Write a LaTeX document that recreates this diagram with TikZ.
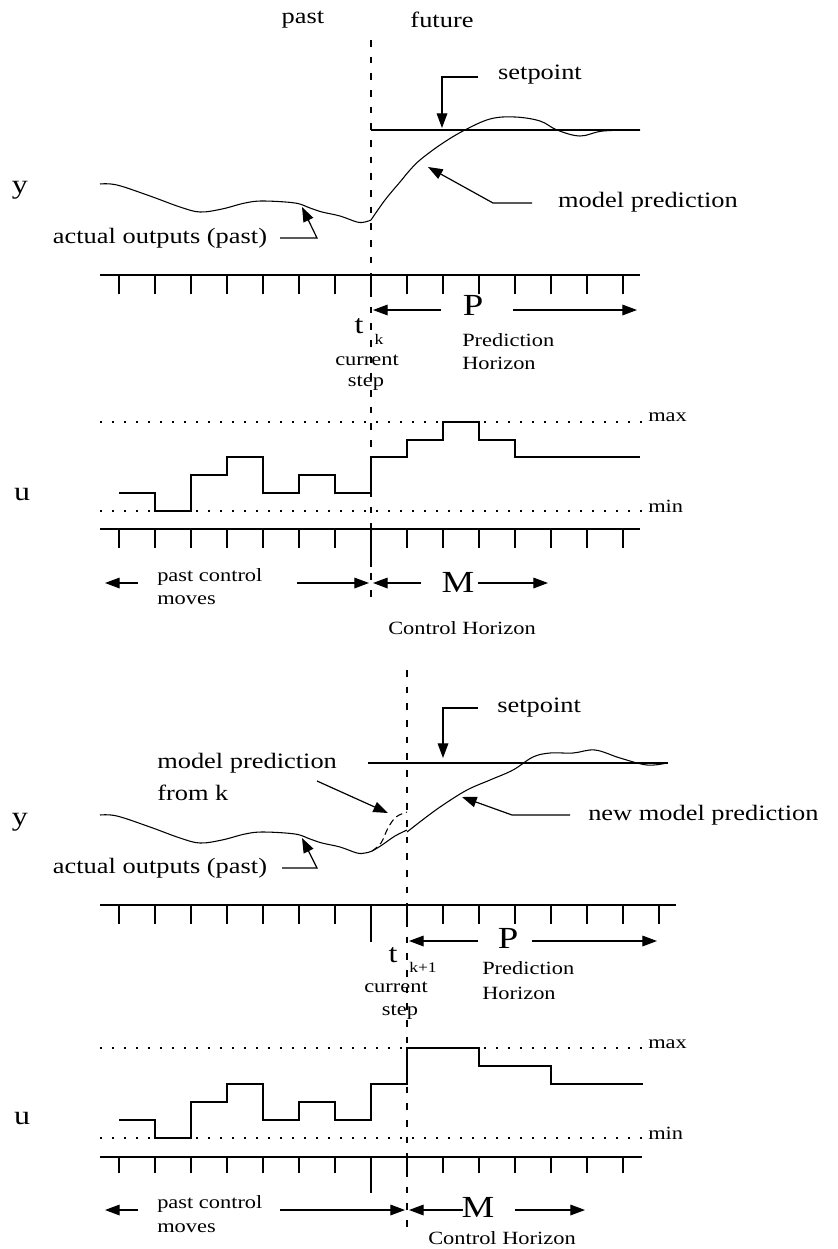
\documentclass[tikz,border=0pt]{standalone}
\usepackage{fontspec}
\setmainfont[FakeStretch=1.2]{Liberation Serif}
\usetikzlibrary{arrows.meta}
\begin{document}
\begin{tikzpicture}[x=0.75pt,y=-0.75pt,
  txt/.style={font=\fontsize{16.5}{18}\selectfont, inner sep=0pt},
  sml/.style={font=\fontsize{14}{16}\selectfont, inner sep=0pt},
  tiny/.style={font=\fontsize{11}{12}\selectfont, inner sep=0pt},
  big/.style={font=\fontsize{23}{26}\selectfont, inner sep=0pt},
  var/.style={font=\fontsize{20}{23}\selectfont, inner sep=0pt},
  axisline/.style={line width=1.1pt},
  tickmark/.style={line width=1.2pt},
  curve/.style={line width=0.8pt},
  nowline/.style={line width=1.2pt, dash pattern=on 5pt off 7.5pt},
  bound/.style={line width=1.1pt, dash pattern=on 1.5pt off 7.5pt},
  leader/.style={line width=0.9pt},
  tip/.style={-{Triangle[length=11pt,width=8pt]}},
  steps/.style={line width=1.1pt}
]
\useasboundingbox (0,0) rectangle (838,1249);

% ================= first horizon (time k) =================
\node[txt] (past) at (303,20) {past};
\node[txt] (future) at (442,20) {future};
\draw[nowline] (371,40) -- (371,602);

% output y
\node[var] (y1) at (20,190) {y};
\draw[line width=1.2pt] (371,130) -- (640,130);
\draw[curve] plot[smooth, tension=0.6] coordinates {(100,184) (117,185) (150,196) (180,207) (200,212) (222,209) (245,203) (263,201) (295,203) (310,208) (322,212) (340,216) (357,222) (365,222) (371,220)};
\draw[curve] plot[smooth, tension=0.6] coordinates {(371,220) (385,200) (400,182) (410,170) (420,160) (440,145) (463,131) (490,119) (515,117) (540,121) (557,130) (580,136) (603,131) (640,130)};

\node[txt] (sp1) at (540,75) {setpoint};
\coordinate (sp1a) at (478,77);
\coordinate (sp1b) at (442,128);
\draw[leader,tip] (sp1a) -| (sp1b);

\node[txt] (mp1) at (648,202) {model prediction};
\coordinate (mp1a) at (532,203);
\coordinate (mp1b) at (493,203);
\coordinate (mp1c) at (428,167);
\draw[leader,tip] (mp1a) -- (mp1b) -- (mp1c);

\node[txt] (ao1) at (160,238) {actual outputs (past)};
\coordinate (ao1a) at (280,238);
\coordinate (ao1b) at (317,238);
\coordinate (ao1c) at (302,207);
\draw[leader,tip] (ao1a) -- (ao1b) -- (ao1c);

% time axis for y
\draw[axisline] (100,275) -- (640,275);
\foreach \i in {0,...,14} \draw[tickmark] ({119+36*\i},275) -- ++(0,19);

\node[big] (P1) at (473,305) {P};
\coordinate (P1l) at (373,310);
\coordinate (P1r) at (637,310);
\draw[leader,tip] (441,310) -- (P1l);
\draw[leader,tip] (513,310) -- (P1r);
\node[var] (t1) at (359,326) {t};
\node[tiny] (k1) at (379,339) {k};
\node[sml] (cur1) at (367,360) {current};
\node[sml] (stp1) at (366,383) {step};
\node[sml,anchor=west] (ph1) at (462,340) {Prediction};
\node[sml,anchor=west] (hz1) at (462,363) {Horizon};

% input u
\node[var] (u1) at (22,495) {u};
\draw[bound] (100,422) -- (643,422);
\draw[bound] (100,511) -- (643,511);
\node[sml,anchor=west] (max1) at (648,417) {max};
\node[sml,anchor=west] (min1) at (648,506) {min};
\draw[steps] (119,493) -- (155,493) -- (155,511) -- (191,511) -- (191,475) -- (227,475) -- (227,457) -- (263,457) -- (263,493) -- (299,493) -- (299,475) -- (335,475) -- (335,493) -- (371,493) -- (371,457) -- (407,457) -- (407,440) -- (443,440) -- (443,422) -- (479,422) -- (479,440) -- (515,440) -- (515,457) -- (640,457);

\draw[axisline] (100,529) -- (640,529);
\foreach \i in {0,...,14} \draw[tickmark] ({119+36*\i},529) -- ++(0,19);
\draw[tickmark] (371,529) -- (371,567);

\coordinate (pm1l) at (105,583);
\coordinate (pm1r) at (369,583);
\draw[leader,tip] (138,583) -- (pm1l);
\draw[leader,tip] (297,583) -- (pm1r);
\node[sml,anchor=west] (pc1) at (157,577) {past control};
\node[sml,anchor=west] (mv1) at (157,600) {moves};
\node[big] (M1) at (458,582) {M};
\coordinate (M1l) at (373,583);
\coordinate (M1r) at (548,583);
\draw[leader,tip] (421,583) -- (M1l);
\draw[leader,tip] (478,583) -- (M1r);
\node[sml] (ch1) at (462,628) {Control Horizon};

% ================= second horizon (time k+1) =================
\draw[nowline] (407,670) -- (407,1235);

\node[var] (y2) at (20,822) {y};
\draw[line width=0.8pt] (368,763) -- (668,763);
\draw[curve] plot[smooth, tension=0.6] coordinates {(100,815) (117,816) (150,827) (180,838) (200,843) (222,840) (245,834) (263,832) (295,834) (310,839) (322,843) (340,847) (357,853) (365,853) (372,851) (382,845) (395,836) (407,830)};
\draw[curve, dash pattern=on 5pt off 3pt] plot[smooth, tension=0.6] coordinates {(372,851) (381,843) (388,828) (396,817) (407,812)};
\draw[curve] plot[smooth, tension=0.6] coordinates {(407,832) (425,818) (443,805) (467,790) (490,780) (513,770) (533,757) (550,753) (573,753) (595,750) (620,758) (647,765) (667,763)};

\node[txt,anchor=west] (sp2) at (497,708) {setpoint};
\coordinate (sp2a) at (478,708);
\coordinate (sp2b) at (443,758);
\draw[leader,tip] (sp2a) -| (sp2b);

\node[txt,anchor=west] (mk2) at (157,763) {model prediction};
\node[txt,anchor=west] (fk2) at (157,793) {from k};
\coordinate (mk2a) at (317,781);
\coordinate (mk2b) at (388,813);
\draw[leader,tip] (mk2a) -- (mk2b);

\node[txt,anchor=west] (nm2) at (588,815) {new model prediction};
\coordinate (nm2a) at (570,815);
\coordinate (nm2b) at (512,815);
\coordinate (nm2c) at (462,797);
\draw[leader,tip] (nm2a) -- (nm2b) -- (nm2c);

\node[txt] (ao2) at (160,868) {actual outputs (past)};
\coordinate (ao2a) at (282,868);
\coordinate (ao2b) at (317,868);
\coordinate (ao2c) at (302,838);
\draw[leader,tip] (ao2a) -- (ao2b) -- (ao2c);

\draw[axisline] (100,905) -- (676,905);
\foreach \i in {0,...,15} \draw[tickmark] ({119+36*\i},905) -- ++(0,19);
\draw[tickmark] (371,905) -- (371,942);

\node[big] (P2) at (508,938) {P};
\coordinate (P2l) at (409,941);
\coordinate (P2r) at (657,941);
\draw[leader,tip] (478,941) -- (P2l);
\draw[leader,tip] (532,941) -- (P2r);
\node[var] (t2) at (393,955) {t};
\node[tiny,anchor=west] (k2) at (409,967) {k+1};
\node[sml] (cur2) at (396,987) {current};
\node[sml] (stp2) at (400,1012) {step};
\node[sml,anchor=west] (ph2) at (482,968) {Prediction};
\node[sml,anchor=west] (hz2) at (482,993) {Horizon};

\node[var] (u2) at (22,1118) {u};
\draw[bound] (100,1048) -- (643,1048);
\draw[bound] (100,1138) -- (643,1138);
\node[sml,anchor=west] (max2) at (648,1044) {max};
\node[sml,anchor=west] (min2) at (648,1133) {min};
\draw[steps] (119,1120) -- (155,1120) -- (155,1138) -- (191,1138) -- (191,1102) -- (227,1102) -- (227,1084) -- (263,1084) -- (263,1120) -- (299,1120) -- (299,1102) -- (335,1102) -- (335,1120) -- (371,1120) -- (371,1084) -- (407,1084) -- (407,1048) -- (479,1048) -- (479,1066) -- (551,1066) -- (551,1084) -- (643,1084);

\draw[axisline] (100,1157) -- (642,1157);
\foreach \i in {0,...,14} \draw[tickmark] ({119+36*\i},1157) -- ++(0,16);
\draw[tickmark] (371,1157) -- (371,1193);

\coordinate (pm2l) at (105,1210);
\coordinate (pm2r) at (405,1210);
\draw[leader,tip] (138,1210) -- (pm2l);
\draw[leader,tip] (280,1210) -- (pm2r);
\node[sml,anchor=west] (pc2) at (157,1204) {past control};
\node[sml,anchor=west] (mv2) at (157,1228) {moves};
\node[big] (M2) at (478,1207) {M};
\coordinate (M2l) at (409,1210);
\coordinate (M2r) at (585,1210);
\draw[leader,tip] (463,1210) -- (M2l);
\draw[leader,tip] (515,1210) -- (M2r);
\node[sml,anchor=west] (ch2) at (428,1238) {Control Horizon};
\end{tikzpicture}
\end{document}
